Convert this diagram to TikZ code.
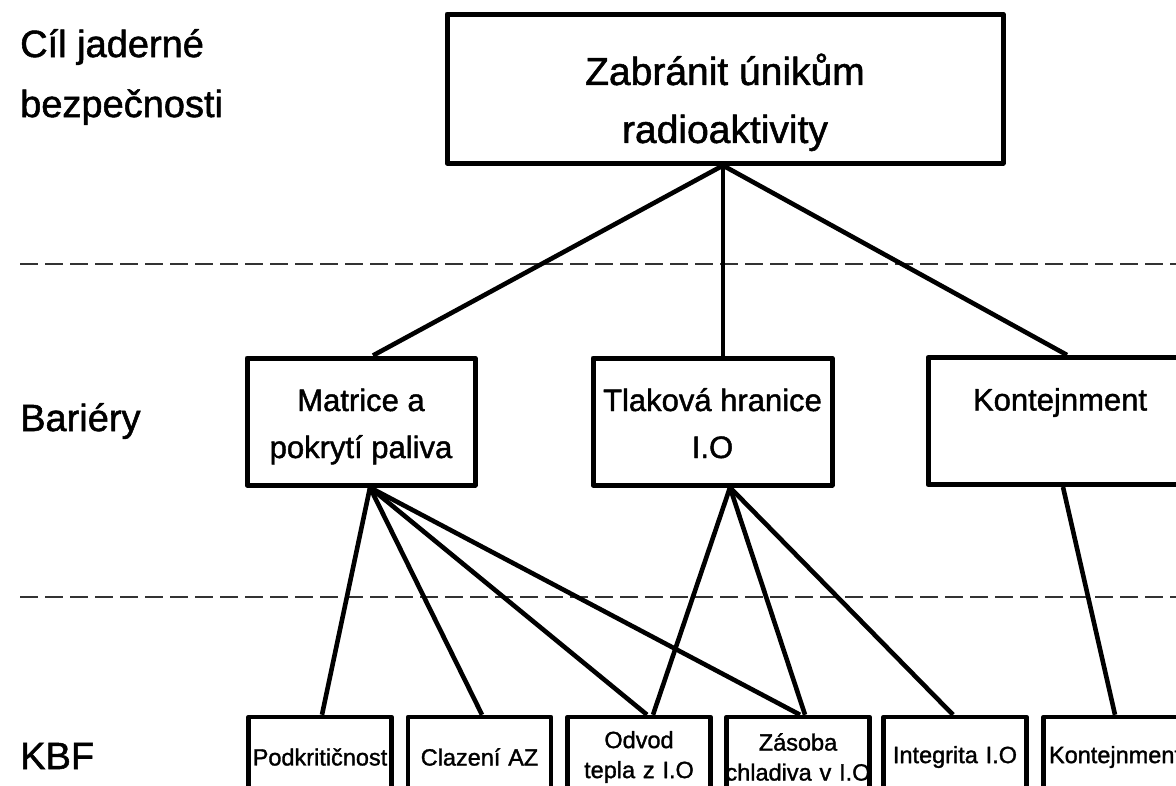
\documentclass[tikz,border=0pt]{standalone}
\usepackage{fontspec}
\setmainfont{Liberation Sans}[FakeBold=1.4]
\usepackage{tikz}
\usetikzlibrary{positioning}
\definecolor{Ink}{HTML}{000000}
\definecolor{Rule}{HTML}{333333}
\newcommand{\topln}[1]{\rule{0pt}{#1}}
\newcommand{\lowln}{\rule[-10pt]{0pt}{10pt}}
\tikzset{goal/.style={draw=Ink,line width=5pt,line join=round,minimum width=556pt,minimum height=149pt,inner sep=0pt,align=center,font=\fontsize{39}{58}\selectfont},barrier/.style={draw=Ink,line width=5pt,line join=round,minimum height=127pt,inner sep=0pt,align=center,font=\fontsize{31}{47}\selectfont},kbf/.style={draw=Ink,line width=4.5pt,line join=round,minimum height=80pt,text width=143pt,inner sep=0pt,align=center,font=\fontsize{23.5}{30}\selectfont},side/.style={anchor=west,align=left,inner sep=0pt,font=\fontsize{38}{60}\selectfont},link/.style={draw=Ink,line width=4.6pt},divider/.style={draw=Rule,line width=2pt,dash pattern=on 18pt off 7pt}}

\begin{document}
\begin{tikzpicture}[x=1pt,y=-1pt]
        \useasboundingbox(0,0)rectangle(1176,785);
        \clip(0,0)rectangle(1176,785);
        \draw[divider](20,264)--(1176,264);
        \draw[divider](20,597)--(1176,597);
        \node[side] (goalLbl) at (20,77){Cíl jaderné\\bezpečnosti};
        \node[side] (barLbl) at (20,421){Bariéry};
        \node[side] (kbfLbl) at (20,756){KBF};
        \node[goal] (goal) at (725,88.5){\topln{59pt}Zabránit únikům\\radioaktivity};
        \node[barrier,minimum width=228pt] (fuel) at (361,421.5){\topln{36pt}Matrice a\\pokrytí paliva\lowln};
        \node[barrier,minimum width=239pt] (rcs) at (712.5,421.5){\topln{36pt}Tlaková hranice\\I.O\lowln};
        \node[barrier,minimum width=264pt] (cont) at (1060,421){\topln{36pt}Kontejnment\\\lowln};
        \node[kbf] (subcrit) at (320,757){Podkritičnost};
        \node[kbf] (cooling) at (479.5,757){Clazení AZ};
        \node[kbf] (heat) at (639,757){Odvod\\tepla z I.O};
        \node[kbf] (inventory) at (798,757){Zásoba\\\makebox[0pt]{chladiva v I.O}};
        \node[kbf] (integrity) at (955,757){Integrita I.O};
        \node[kbf] (kcont) at (1115,757){Kontejnment};
        % goal to barriers
        \draw[link]([xshift=-2pt]goal.south)--([xshift=12pt]fuel.north);
        \draw[link]([xshift=-2pt]goal.south)--([xshift=10.5pt]rcs.north);
        \draw[link]([xshift=-2pt]goal.south)--([xshift=7pt]cont.north);
        % barriers to KBF
        \draw[link]([xshift=9pt]fuel.south)--([xshift=2pt]subcrit.north);
        \draw[link]([xshift=9pt]fuel.south)--([xshift=2.5pt]cooling.north);
        \draw[link]([xshift=9pt]fuel.south)--([xshift=8pt]heat.north);
        \draw[link]([xshift=9pt]fuel.south)--([xshift=2pt]inventory.north);
        \draw[link]([xshift=17.5pt]rcs.south)--([xshift=14pt]heat.north);
        \draw[link]([xshift=17.5pt]rcs.south)--([xshift=7pt]inventory.north);
        \draw[link]([xshift=17.5pt]rcs.south)--([xshift=-2pt]integrity.north);
        \draw[link]([xshift=3pt]cont.south)--(kcont.north);
      \end{tikzpicture}
\end{document}
